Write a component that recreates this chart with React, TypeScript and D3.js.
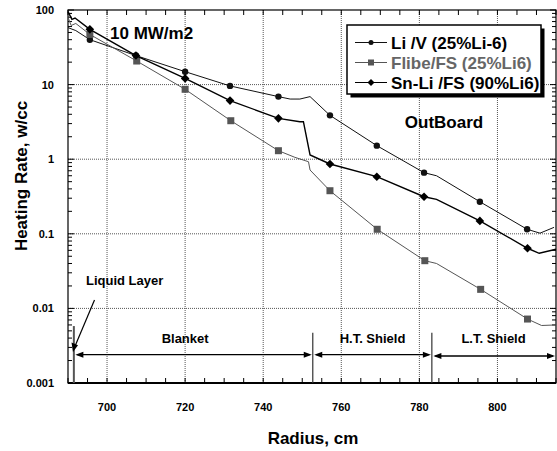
import React from 'react'
import * as d3 from 'd3'

// radius (cm) / heating rate (w/cc)
const liRadius = [690, 692, 695.6, 707.4, 720, 731.5, 743.9, 746.9, 749.4, 752, 757.1, 769.1, 781.2, 784.4, 795.5, 807.6, 810.9, 814.5]
const liRate = [58, 53, 40, 24.5, 14.9, 9.6, 6.9, 6.4, 6.4, 6.9, 3.87, 1.52, 0.66, 0.6, 0.269, 0.115, 0.102, 0.122]
const liMarks = [2, 3, 4, 5, 6, 10, 11, 12, 14, 15]

const flibeRadius = [690, 690.8, 692, 695.6, 707.6, 720, 731.7, 743.9, 748.1, 751.6, 752, 757.1, 769.2, 781.4, 784.4, 795.7, 807.7, 811.3, 815]
const flibeRate = [80, 62, 66, 47, 20.7, 8.65, 3.28, 1.3, 1.06, 0.925, 0.716, 0.378, 0.115, 0.0436, 0.04, 0.018, 0.0072, 0.0059, 0.006]
const flibeMarks = [3, 4, 5, 6, 7, 11, 12, 13, 15, 16]

const snliRadius = [690, 691, 691.8, 695.6, 707.4, 720, 731.5, 743.9, 749.4, 750.3, 752, 757.1, 769.1, 781.2, 784.4, 795.5, 807.7, 810.7, 815]
const snliRate = [95, 75, 78, 55, 24.5, 12.1, 6.1, 3.53, 3.18, 3.18, 1.14, 0.863, 0.583, 0.314, 0.29, 0.149, 0.064, 0.0548, 0.062]
const snliMarks = [3, 4, 5, 6, 7, 11, 12, 13, 15, 16]

const seriesNames = ['Li /V (25%Li-6)', 'Flibe/FS (25%Li6)', 'Sn-Li /FS (90%Li6)']

const xTicks = [700, 720, 740, 760, 780, 800]
const yTicks = [0.001, 0.01, 0.1, 1, 10, 100]
const yTickLabels = ['0.001', '0.01', '0.1', '1', '10', '100']

// zone boundaries (cm) and labels
const zoneEdges = [691.5, 752.7, 783.2, 815]
const zoneLabels = ['Blanket', 'H.T. Shield', 'L.T. Shield']
const zoneLabelRadius = [720, 768, 799]

const font = '"Liberation Sans", Arial, sans-serif'

function Marker({ shape, cx, cy, size, color }) {
  if (shape === 'circle') return <circle cx={cx} cy={cy} r={size} fill={color} />
  if (shape === 'square') return <rect x={cx - size} y={cy - size} width={size * 2} height={size * 2} fill={color} />
  return <path d={`M${cx},${cy - size}L${cx + size},${cy}L${cx},${cy + size}L${cx - size},${cy}Z`} fill={color} />
}

function Arrow({ x1, x2, y }) {
  const h = 8, w = 3
  return (
    <g>
      <line x1={x1 + 2} x2={x2 - 2} y1={y} y2={y} stroke="#000" strokeWidth={1.3} />
      <path d={`M${x1},${y}L${x1 + h},${y - w}L${x1 + h},${y + w}Z`} fill="#000" />
      <path d={`M${x2},${y}L${x2 - h},${y - w}L${x2 - h},${y + w}Z`} fill="#000" />
    </g>
  )
}

export default function App() {
  const W = 557, H = 451
  const x = d3.scaleLinear().domain([690, 815]).range([68, 556])
  const y = d3.scaleLog().domain([0.001, 100]).range([383, 10])
  const [x0, x1] = x.range()
  const [y0, y1] = y.range()

  const series = [
    { name: seriesNames[0], r: liRadius, v: liRate, marks: liMarks, shape: 'circle', size: 3.2, color: '#111', lw: 1, text: '#000' },
    { name: seriesNames[1], r: flibeRadius, v: flibeRate, marks: flibeMarks, shape: 'square', size: 3.5, color: '#555', lw: 1, text: '#666' },
    { name: seriesNames[2], r: snliRadius, v: snliRate, marks: snliMarks, shape: 'diamond', size: 4.3, color: '#000', lw: 1.4, text: '#000' },
  ]

  const line = d3.line().x(d => x(d[0])).y(d => y(d[1]))

  const minorX = d3.range(690, 816, 5)
  const minorY = []
  for (let e = -3; e < 2; e++) for (let k = 2; k <= 9; k++) minorY.push(k * Math.pow(10, e))

  const arrowY = [y(0.0024), y(0.0024), y(0.0023)]

  return (
    <svg width={W} height={H} style={{ position: 'absolute', left: 0, top: 0, background: '#fff' }} fontFamily={font} fontWeight="bold">
      {/* grid */}
      {xTicks.map(t => (
        <line key={'gx' + t} x1={x(t)} x2={x(t)} y1={y0} y2={y1} stroke="#555" strokeWidth={1} strokeDasharray="1,1" />
      ))}
      {yTicks.slice(1, -1).map(t => (
        <line key={'gy' + t} x1={x0} x2={x1} y1={y(t)} y2={y(t)} stroke="#555" strokeWidth={1} strokeDasharray="1,1" />
      ))}

      {/* ticks */}
      {minorX.map(t => (
        <g key={'tx' + t} stroke="#000" strokeWidth={1}>
          <line x1={x(t)} x2={x(t)} y1={y0} y2={y0 - 5} />
          <line x1={x(t)} x2={x(t)} y1={y1} y2={y1 + 5} />
        </g>
      ))}
      {minorY.map(t => (
        <g key={'ty' + t} stroke="#000" strokeWidth={1}>
          <line x1={x0} x2={x0 + 4} y1={y(t)} y2={y(t)} />
          <line x1={x1} x2={x1 - 4} y1={y(t)} y2={y(t)} />
        </g>
      ))}
      {yTicks.map(t => (
        <g key={'tyM' + t} stroke="#000" strokeWidth={1}>
          <line x1={x0} x2={x0 + 6} y1={y(t)} y2={y(t)} />
          <line x1={x1} x2={x1 - 6} y1={y(t)} y2={y(t)} />
        </g>
      ))}

      {/* frame */}
      <rect x={x0} y={y1} width={x1 - x0} height={y0 - y1} fill="none" stroke="#000" strokeWidth={1.2} />
      <line x1={x0} x2={x1} y1={y0} y2={y0} stroke="#000" strokeWidth={2} />

      {/* tick labels */}
      {xTicks.map(t => (
        <text key={'lx' + t} x={x(t)} y={411} textAnchor="middle" fontSize={11}>{t}</text>
      ))}
      {yTicks.map((t, i) => (
        <text key={'ly' + t} x={x0 - 14} y={y(t) + 4} textAnchor="end" fontSize={11}>{yTickLabels[i]}</text>
      ))}

      {/* axis titles */}
      <text x={313} y={444} textAnchor="middle" fontSize={17}>Radius, cm</text>
      <text transform="translate(27,176) rotate(-90)" textAnchor="middle" fontSize={17}>Heating Rate, w/cc</text>

      {/* series */}
      {series.map(s => {
        const pts = s.r.map((r, i) => [r, s.v[i]])
        return (
          <g key={s.name}>
            <path d={line(pts)} fill="none" stroke={s.color} strokeWidth={s.lw} />
            {s.marks.map(i => (
              <Marker key={i} shape={s.shape} cx={x(s.r[i])} cy={y(s.v[i])} size={s.size} color={s.color} />
            ))}
          </g>
        )
      })}

      {/* annotations */}
      <text x={110} y={38.5} fontSize={17}>10 MW/m2</text>
      <text x={444} y={127.5} textAnchor="middle" fontSize={17}>OutBoard</text>

      <line x1={x(zoneEdges[0])} x2={x(zoneEdges[0])} y1={y(0.0058)} y2={y0} stroke="#555" strokeWidth={2} />
      {zoneEdges.slice(1, 3).map(z => (
        <line key={'ze' + z} x1={x(z)} x2={x(z)} y1={y(0.0047)} y2={y0} stroke="#333" strokeWidth={1.2} />
      ))}
      {zoneLabels.map((lab, i) => (
        <g key={lab}>
          <Arrow x1={x(zoneEdges[i]) + 1.5} x2={x(zoneEdges[i + 1]) - 1} y={arrowY[i]} />
          <text x={x(zoneLabelRadius[i])} y={343} textAnchor="middle" fontSize={13}>{lab}</text>
        </g>
      ))}

      <text x={86} y={285} fontSize={13}>Liquid Layer</text>
      <line x1={94.5} y1={300} x2={75.5} y2={345} stroke="#000" strokeWidth={1.2} />
      <path d="M73,352L71.5,342.5L78,345.2Z" fill="#000" />

      {/* legend */}
      <rect x={350.5} y={28.5} width={194} height={69} fill="#000" />
      <rect x={347} y={25} width={194} height={69} fill="#fff" stroke="#000" strokeWidth={1.5} />
      {series.map((s, i) => {
        const ly = 42.5 + i * 20
        return (
          <g key={'lg' + s.name}>
            <line x1={355} x2={387} y1={ly} y2={ly} stroke={s.color} strokeWidth={1} />
            <Marker shape={s.shape} cx={371} cy={ly} size={s.shape === 'circle' ? 2.5 : s.shape === 'square' ? 3 : 3.5} color={s.color} />
            <text x={391} y={ly + 6} fontSize={17} fill={s.text}>{s.name}</text>
          </g>
        )
      })}
    </svg>
  )
}
